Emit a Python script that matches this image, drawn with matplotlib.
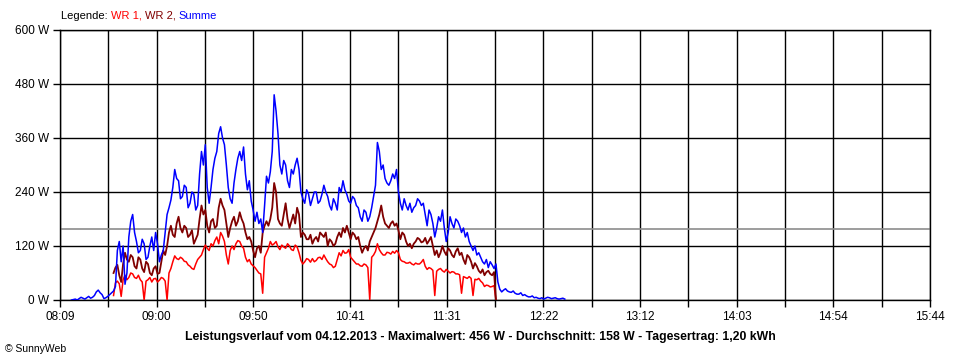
import numpy as np
import matplotlib.pyplot as plt

# minutes since midnight; one sample per minute
sum_start, wr_start, step = 495, 517, 1

summe = [0, 1, 2, 0, 3, 6, 4, 2, 5, 8, 4, 6, 10, 18, 22, 16, 12, 3, 5, 8,
         12, 16, 20, 30, 110, 130, 85, 120, 35, 60, 140, 175, 190, 150, 130, 105,
         110, 135, 125, 90, 95, 120, 140, 110, 150, 125, 85, 100, 110, 150,
         190, 205, 222, 250, 290, 270, 265, 225, 230, 255, 250, 205, 215, 240,
         235, 200, 210, 280, 330, 300, 345, 250, 215, 250, 290, 315, 330, 370,
         385, 360, 345, 300, 250, 225, 215, 260, 290, 315, 330, 310, 340, 280,
         245, 265, 220, 200, 175, 195, 170, 180, 150, 210, 275, 260, 285, 330,
         456, 420, 370, 300, 280, 310, 300, 265, 250, 290, 280, 300, 315, 290,
         240, 225, 215, 245, 235, 210, 225, 240, 240, 215, 220, 235, 255, 240,
         230, 210, 200, 225, 215, 200, 250, 240, 265, 245, 235, 220, 215, 230,
         225, 210, 205, 185, 175, 200, 195, 175, 185, 205, 230, 255, 350, 330,
         290, 300, 270, 260, 255, 265, 280, 270, 290, 240, 215, 200, 225, 210,
         200, 215, 195, 205, 210, 225, 220, 210, 215, 190, 165, 200, 190, 170,
         140, 160, 185, 175, 200, 160, 130, 150, 185, 170, 160, 180, 175, 165,
         150, 160, 140, 150, 130, 120, 110, 120, 100, 105, 95, 85, 80, 90,
         72, 85, 78, 70, 80, 40, 24, 18, 22, 25, 20, 18, 17, 20, 15, 13, 13, 16,
         10, 12, 9, 7, 7, 9, 5, 6, 4, 3, 5, 2, 4, 6, 5, 3, 4, 5, 3, 2, 3, 4, 2]

wr1 = [10, 38, 42, 36, 8, 45, 55, 45, 50, 60, 58, 50, 48, 55, 45, 40, 0, 42,
       45, 50, 40, 47, 48, 40, 44, 50, 48, 42, 0, 60, 70, 85, 98, 92, 90, 95,
       92, 86, 85, 78, 75, 70, 68, 80, 90, 95, 100, 112, 122, 115, 110, 125,
       120, 132, 140, 125, 150, 142, 130, 100, 80, 110, 120, 112, 125, 132,
       130, 120, 115, 95, 85, 90, 80, 76, 72, 66, 60, 58, 15, 95, 105, 115,
       130, 122, 125, 130, 118, 112, 122, 118, 115, 125, 120, 112, 110, 122,
       118, 105, 88, 80, 85, 92, 90, 84, 92, 85, 88, 94, 95, 90, 100, 92, 85,
       80, 78, 72, 75, 90, 105, 98, 110, 104, 105, 112, 95, 90, 85, 80, 80,
       76, 75, 80, 78, 72, 0, 95, 100, 108, 125, 112, 105, 100, 100, 106, 105,
       102, 108, 104, 110, 105, 90, 86, 85, 82, 82, 84, 80, 78, 82, 80, 80,
       84, 90, 75, 68, 72, 70, 66, 10, 64, 68, 70, 65, 62, 68, 64, 60, 63, 62,
       58, 58, 56, 15, 52, 50, 48, 52, 48, 10, 46, 45, 48, 42, 38, 30, 33, 32,
       29, 30, 32, 0]

wr2 = [60, 72, 78, 55, 40, 80, 105, 90, 85, 100, 95, 75, 70, 95, 90, 70, 62,
       85, 80, 60, 55, 70, 75, 58, 60, 85, 110, 100, 120, 150, 165, 145, 140,
       170, 185, 160, 150, 165, 160, 140, 145, 155, 125, 135, 145, 180, 210,
       190, 200, 165, 150, 175, 180, 160, 165, 205, 225, 210, 200, 170, 140,
       160, 175, 185, 165, 175, 195, 180, 170, 150, 135, 140, 130, 110, 95,
       115, 120, 105, 150, 165, 175, 165, 180, 205, 260, 240, 180, 170, 165,
       190, 215, 180, 160, 175, 190, 170, 205, 190, 140, 150, 145, 135, 135,
       145, 125, 135, 140, 130, 150, 145, 140, 150, 120, 135, 130, 120, 125,
       140, 150, 140, 160, 150, 165, 150, 135, 150, 145, 135, 140, 120, 105,
       115, 120, 110, 130, 140, 150, 160, 175, 190, 210, 185, 170, 165, 160,
       170, 175, 165, 170, 155, 135, 150, 145, 130, 120, 125, 115, 125, 130,
       138, 135, 128, 130, 138, 125, 132, 140, 120, 100, 110, 95, 105, 120,
       108, 100, 115, 110, 100, 95, 108, 115, 100, 105, 90, 80, 100, 95, 85,
       70, 82, 75, 65, 60, 68, 55, 62, 65, 58, 55, 62, 0]

average = 158
x_labels = ['08:09', '09:00', '09:50', '10:41', '11:31',
            '12:22', '13:12', '14:03', '14:54', '15:44']
y_ticks = [0, 120, 240, 360, 480, 600]

t_sum = sum_start + step * np.arange(len(summe))
t_wr = wr_start + step * np.arange(len(wr1))

plt.rcParams['font.family'] = ['Liberation Sans', 'DejaVu Sans']

fig = plt.figure(figsize=(9.6, 3.6), dpi=100)
ax = fig.add_axes([60 / 960, 60 / 360, 870 / 960, 270 / 360])

ax.plot(t_wr, wr1, color='#ff0000', lw=1.1, zorder=3)
ax.plot(t_wr, wr2, color='#800000', lw=1.3, zorder=3)
ax.plot(t_sum, summe, color='#0000ff', lw=1.1, zorder=4)
ax.axhline(average, color='#8c8c8c', lw=1.2, zorder=2)

x0, x1 = 489, 944
xt = np.linspace(x0, x1, 19)
ax.set_xlim(x0, x1)
ax.set_ylim(0, 600)
ax.set_xticks(xt)
ax.set_xticklabels([x_labels[i // 2] if i % 2 == 0 else '' for i in range(19)],
                   fontsize=8.5)
ax.set_yticks(y_ticks)
ax.set_yticklabels([f'{v} W' for v in y_ticks], fontsize=8.5)
ax.tick_params(direction='out', length=5, width=1, color='black', pad=3)
ax.grid(True, color='black', lw=1, zorder=1)
ax.set_axisbelow(True)
for s in ax.spines.values():
    s.set_linewidth(1)

# legend line with coloured pieces
parts = [('Legende: ', 'black'), ('WR 1, ', '#ff0000'),
         ('WR 2, ', '#800000'), ('Summe', '#0000ff')]
fig.canvas.draw()
r = fig.canvas.get_renderer()
px = 61
for txt, col in parts:
    t = fig.text(px / 960, 1 - 16 / 360, txt, color=col, fontsize=8,
                 va='center', ha='left')
    px += t.get_window_extent(r).width

fig.text(480 / 960, 1 - 337 / 360,
         'Leistungsverlauf vom 04.12.2013 - Maximalwert: 456 W - '
         'Durchschnitt: 158 W - Tagesertrag: 1,20 kWh',
         ha='center', va='center', fontsize=8.8, fontweight='bold')
fig.text(5 / 960, 1 - 349 / 360, '© SunnyWeb', ha='left', va='center',
         fontsize=7.5)

fig.savefig('out.png', dpi=100)
